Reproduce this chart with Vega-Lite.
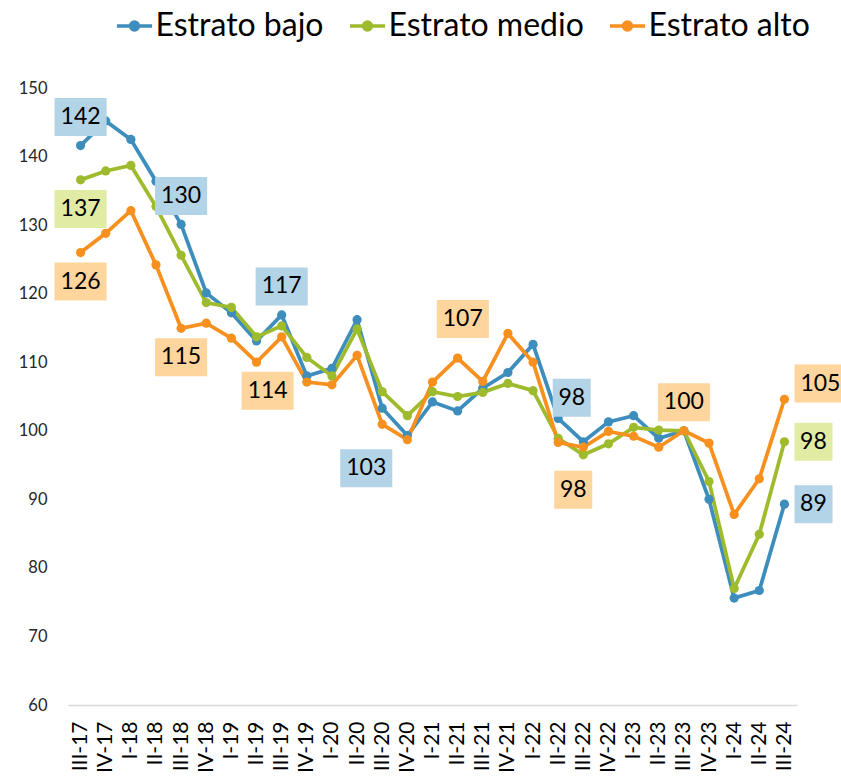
{
  "$schema": "https://vega.github.io/schema/vega-lite/v6.json",
  "width": 729,
  "height": 617,
  "autosize": {"type": "none"},
  "padding": {"left": 68, "top": 88, "right": 44, "bottom": 73},
  "background": "white",
  "config": {"view": {"stroke": null}, "font": "Lato"},
  "data": {"values": [
    {"trimestre": "III-17", "estrato": "Estrato bajo", "valor": 141.6, "ubicacion": "arriba"},
    {"trimestre": "IV-17", "estrato": "Estrato bajo", "valor": 145.2},
    {"trimestre": "I-18", "estrato": "Estrato bajo", "valor": 142.5},
    {"trimestre": "II-18", "estrato": "Estrato bajo", "valor": 136.4},
    {"trimestre": "III-18", "estrato": "Estrato bajo", "valor": 130.1, "ubicacion": "arriba"},
    {"trimestre": "IV-18", "estrato": "Estrato bajo", "valor": 120.1},
    {"trimestre": "I-19", "estrato": "Estrato bajo", "valor": 117.2},
    {"trimestre": "II-19", "estrato": "Estrato bajo", "valor": 113.1},
    {"trimestre": "III-19", "estrato": "Estrato bajo", "valor": 116.9, "ubicacion": "arriba"},
    {"trimestre": "IV-19", "estrato": "Estrato bajo", "valor": 108.0},
    {"trimestre": "I-20", "estrato": "Estrato bajo", "valor": 109.1},
    {"trimestre": "II-20", "estrato": "Estrato bajo", "valor": 116.2},
    {"trimestre": "III-20", "estrato": "Estrato bajo", "valor": 103.3, "ubicacion": "a103"},
    {"trimestre": "IV-20", "estrato": "Estrato bajo", "valor": 99.3},
    {"trimestre": "I-21", "estrato": "Estrato bajo", "valor": 104.2},
    {"trimestre": "II-21", "estrato": "Estrato bajo", "valor": 102.9},
    {"trimestre": "III-21", "estrato": "Estrato bajo", "valor": 106.2},
    {"trimestre": "IV-21", "estrato": "Estrato bajo", "valor": 108.5},
    {"trimestre": "I-22", "estrato": "Estrato bajo", "valor": 112.6},
    {"trimestre": "II-22", "estrato": "Estrato bajo", "valor": 101.8},
    {"trimestre": "III-22", "estrato": "Estrato bajo", "valor": 98.4, "ubicacion": "b98"},
    {"trimestre": "IV-22", "estrato": "Estrato bajo", "valor": 101.3},
    {"trimestre": "I-23", "estrato": "Estrato bajo", "valor": 102.2},
    {"trimestre": "II-23", "estrato": "Estrato bajo", "valor": 98.9},
    {"trimestre": "III-23", "estrato": "Estrato bajo", "valor": 100.0},
    {"trimestre": "IV-23", "estrato": "Estrato bajo", "valor": 90.0},
    {"trimestre": "I-24", "estrato": "Estrato bajo", "valor": 75.6},
    {"trimestre": "II-24", "estrato": "Estrato bajo", "valor": 76.7},
    {"trimestre": "III-24", "estrato": "Estrato bajo", "valor": 89.3, "ubicacion": "der2"},
    {"trimestre": "III-17", "estrato": "Estrato medio", "valor": 136.6, "ubicacion": "abajo"},
    {"trimestre": "IV-17", "estrato": "Estrato medio", "valor": 137.9},
    {"trimestre": "I-18", "estrato": "Estrato medio", "valor": 138.7},
    {"trimestre": "II-18", "estrato": "Estrato medio", "valor": 132.7},
    {"trimestre": "III-18", "estrato": "Estrato medio", "valor": 125.6},
    {"trimestre": "IV-18", "estrato": "Estrato medio", "valor": 118.7},
    {"trimestre": "I-19", "estrato": "Estrato medio", "valor": 118.0},
    {"trimestre": "II-19", "estrato": "Estrato medio", "valor": 113.7},
    {"trimestre": "III-19", "estrato": "Estrato medio", "valor": 115.3},
    {"trimestre": "IV-19", "estrato": "Estrato medio", "valor": 110.7},
    {"trimestre": "I-20", "estrato": "Estrato medio", "valor": 108.0},
    {"trimestre": "II-20", "estrato": "Estrato medio", "valor": 114.85},
    {"trimestre": "III-20", "estrato": "Estrato medio", "valor": 105.7},
    {"trimestre": "IV-20", "estrato": "Estrato medio", "valor": 102.2},
    {"trimestre": "I-21", "estrato": "Estrato medio", "valor": 105.7},
    {"trimestre": "II-21", "estrato": "Estrato medio", "valor": 105.0},
    {"trimestre": "III-21", "estrato": "Estrato medio", "valor": 105.6},
    {"trimestre": "IV-21", "estrato": "Estrato medio", "valor": 106.9},
    {"trimestre": "I-22", "estrato": "Estrato medio", "valor": 105.85},
    {"trimestre": "II-22", "estrato": "Estrato medio", "valor": 98.9},
    {"trimestre": "III-22", "estrato": "Estrato medio", "valor": 96.5},
    {"trimestre": "IV-22", "estrato": "Estrato medio", "valor": 98.1},
    {"trimestre": "I-23", "estrato": "Estrato medio", "valor": 100.5},
    {"trimestre": "II-23", "estrato": "Estrato medio", "valor": 100.1},
    {"trimestre": "III-23", "estrato": "Estrato medio", "valor": 100.0},
    {"trimestre": "IV-23", "estrato": "Estrato medio", "valor": 92.6},
    {"trimestre": "I-24", "estrato": "Estrato medio", "valor": 77.0},
    {"trimestre": "II-24", "estrato": "Estrato medio", "valor": 84.9},
    {"trimestre": "III-24", "estrato": "Estrato medio", "valor": 98.4, "ubicacion": "der2"},
    {"trimestre": "III-17", "estrato": "Estrato alto", "valor": 126.0, "ubicacion": "abajo"},
    {"trimestre": "IV-17", "estrato": "Estrato alto", "valor": 128.8},
    {"trimestre": "I-18", "estrato": "Estrato alto", "valor": 132.1},
    {"trimestre": "II-18", "estrato": "Estrato alto", "valor": 124.2},
    {"trimestre": "III-18", "estrato": "Estrato alto", "valor": 114.95, "ubicacion": "abajo"},
    {"trimestre": "IV-18", "estrato": "Estrato alto", "valor": 115.7},
    {"trimestre": "I-19", "estrato": "Estrato alto", "valor": 113.5},
    {"trimestre": "II-19", "estrato": "Estrato alto", "valor": 110.0},
    {"trimestre": "III-19", "estrato": "Estrato alto", "valor": 113.7, "ubicacion": "a114"},
    {"trimestre": "IV-19", "estrato": "Estrato alto", "valor": 107.1},
    {"trimestre": "I-20", "estrato": "Estrato alto", "valor": 106.7},
    {"trimestre": "II-20", "estrato": "Estrato alto", "valor": 111.0},
    {"trimestre": "III-20", "estrato": "Estrato alto", "valor": 100.95},
    {"trimestre": "IV-20", "estrato": "Estrato alto", "valor": 98.7},
    {"trimestre": "I-21", "estrato": "Estrato alto", "valor": 107.1},
    {"trimestre": "II-21", "estrato": "Estrato alto", "valor": 110.6},
    {"trimestre": "III-21", "estrato": "Estrato alto", "valor": 107.2, "ubicacion": "a107"},
    {"trimestre": "IV-21", "estrato": "Estrato alto", "valor": 114.2},
    {"trimestre": "I-22", "estrato": "Estrato alto", "valor": 110.0},
    {"trimestre": "II-22", "estrato": "Estrato alto", "valor": 98.3},
    {"trimestre": "III-22", "estrato": "Estrato alto", "valor": 97.6, "ubicacion": "n98"},
    {"trimestre": "IV-22", "estrato": "Estrato alto", "valor": 99.9},
    {"trimestre": "I-23", "estrato": "Estrato alto", "valor": 99.2},
    {"trimestre": "II-23", "estrato": "Estrato alto", "valor": 97.6},
    {"trimestre": "III-23", "estrato": "Estrato alto", "valor": 100.0, "ubicacion": "arriba"},
    {"trimestre": "IV-23", "estrato": "Estrato alto", "valor": 98.2},
    {"trimestre": "I-24", "estrato": "Estrato alto", "valor": 87.8},
    {"trimestre": "II-24", "estrato": "Estrato alto", "valor": 93.0},
    {"trimestre": "III-24", "estrato": "Estrato alto", "valor": 104.6, "ubicacion": "der3"}
  ]},
  "encoding": {
    "x": {
      "field": "trimestre", "type": "nominal", "title": null,
      "sort": ["III-17","IV-17","I-18","II-18","III-18","IV-18","I-19","II-19","III-19","IV-19","I-20","II-20","III-20","IV-20","I-21","II-21","III-21","IV-21","I-22","II-22","III-22","IV-22","I-23","II-23","III-23","IV-23","I-24","II-24","III-24"],
      "scale": {"type": "point", "padding": 0.5},
      "axis": {"domain": true, "domainColor": "#d9d9d9", "domainWidth": 1.5, "ticks": false, "grid": false, "labelAngle": 270, "labelFont": "Lato", "labelFontSize": 21, "labelColor": "#000000", "labelPadding": 16, "labelOverlap": false, "labelBound": false}
    },
    "y": {
      "field": "valor", "type": "quantitative", "title": null,
      "scale": {"domain": [60, 150], "nice": false, "zero": false},
      "axis": {"values": [60,70,80,90,100,110,120,130,140,150], "domain": false, "ticks": false, "grid": false, "labelFont": "Lato", "labelFontSize": 16.5, "labelColor": "#262626", "labelPadding": 21}
    }
  },
  "layer": [
    {
      "mark": {"type": "line", "strokeWidth": 3.75, "point": {"filled": true, "size": 85, "opacity": 1}},
      "encoding": {
        "color": {
          "field": "estrato", "type": "nominal",
          "scale": {"domain": ["Estrato bajo", "Estrato medio", "Estrato alto"], "range": ["#3d8dbd", "#9dbb2d", "#f7901e"]},
          "legend": {
            "orient": "none", "legendX": 50.5, "legendY": -78, "direction": "horizontal", "title": null,
            "labelFont": "Lato", "labelFontSize": 32, "labelColor": "#000000", "labelLimit": 400,
            "symbolType": "M-1.6,0H1.6M-0.36,0A0.36,0.36,0,1,1,0.36,0A0.36,0.36,0,1,1,-0.36,0Z",
            "symbolSize": 484, "symbolStrokeWidth": 3.5, "labelOffset": 5, "columnPadding": 18,
            "encode": {"symbols": {"update": {"fill": {"scale": "color", "field": "value"}, "stroke": {"scale": "color", "field": "value"}, "opacity": {"value": 1}}}}
          }
        }
      }
    },
    {
      "transform": [{"filter": "isValid(datum.ubicacion)"}],
      "mark": {
        "type": "point", "filled": true, "opacity": 1, "strokeWidth": 0, "size": 1444,
        "shape": {"expr": "({arriba: 'M-1.37,-2.5H1.37V-0.5H-1.37Z', abajo: 'M-1.37,0.53H1.37V2.53H-1.37Z', a114: 'M-2.11,1.84H0.63V3.84H-2.11Z', a103: 'M-2.21,2.16H0.53V4.16H-2.21Z', a107: 'M-2.42,-4.29H0.32V-2.29H-2.42Z', b98: 'M-1.61,-3.32H0.39V-1.32H-1.61Z', n98: 'M-1.53,1.24H0.47V3.24H-1.53Z', der2: 'M0.53,-1H2.53V1H0.53Z', der3: 'M0.53,-1.83H3.26V0.17H0.53Z'})[datum.ubicacion]"}
      },
      "encoding": {
        "fill": {
          "field": "estrato", "type": "nominal", "legend": null,
          "scale": {"domain": ["Estrato bajo", "Estrato medio", "Estrato alto"], "range": ["#b3d3e6", "#e2eba4", "#fed59c"]}
        }
      }
    },
    {
      "transform": [{"filter": "isValid(datum.ubicacion)"}],
      "mark": {
        "type": "text", "font": "Lato", "fontSize": 23, "color": "#000000", "align": "center", "baseline": "middle",
        "dx": {"expr": "({arriba: 0, abajo: 0, a114: -14, a103: -16, a107: -20, b98: -11.5, n98: -10, der2: 29, der3: 36})[datum.ubicacion]"},
        "dy": {"expr": "({arriba: -28.5, abajo: 29, a114: 54, a103: 60, a107: -62.5, b98: -44, n98: 42.5, der2: 0, der3: -15.7})[datum.ubicacion]"}
      },
      "encoding": {
        "text": {"field": "valor", "type": "quantitative", "format": ".0f"}
      }
    }
  ]
}
